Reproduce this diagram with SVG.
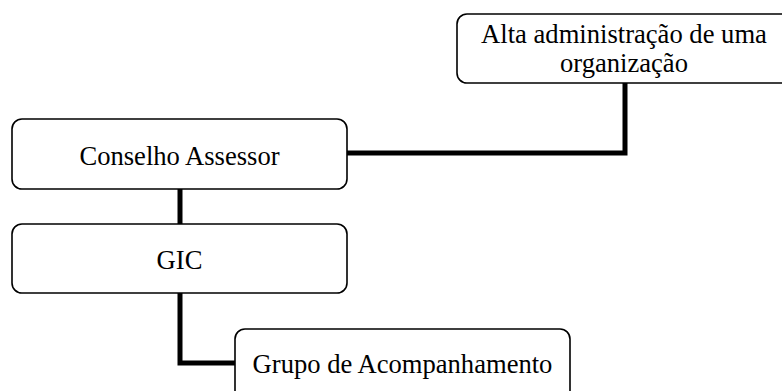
<svg xmlns="http://www.w3.org/2000/svg" width="782" height="391" viewBox="0 0 782 391">
<style>
.box{fill:#fff;stroke:#000;stroke-width:1.6}
.lbl{font-family:"Liberation Serif","Times New Roman",serif;font-size:26.6px;fill:#000;text-anchor:middle}
.conn{fill:none;stroke:#000;stroke-width:5;stroke-linejoin:miter}
</style>
<rect width="782" height="391" fill="#fff"/>
<g id="connectors">
<polyline class="conn" points="625,83 625,153 347,153"/>
<polyline class="conn" points="180,189 180,224"/>
<polyline class="conn" points="180,293 180,363 235,363"/>
</g>
<g id="alta">
<rect class="box" x="457" y="14" width="334" height="69" rx="10"/>
<text class="lbl" x="624" y="43">Alta administração de uma</text>
<text class="lbl" x="624" y="72">organização</text>
</g>
<g id="conselho">
<rect class="box" x="12" y="119" width="335" height="70" rx="10"/>
<text class="lbl" x="179.5" y="165">Conselho Assessor</text>
</g>
<g id="gic">
<rect class="box" x="12" y="224" width="335" height="69" rx="10"/>
<text class="lbl" x="179.5" y="269">GIC</text>
</g>
<g id="grupo">
<rect class="box" x="235" y="329" width="335" height="80" rx="10"/>
<text class="lbl" x="402.5" y="373">Grupo de Acompanhamento</text>
</g>
</svg>
